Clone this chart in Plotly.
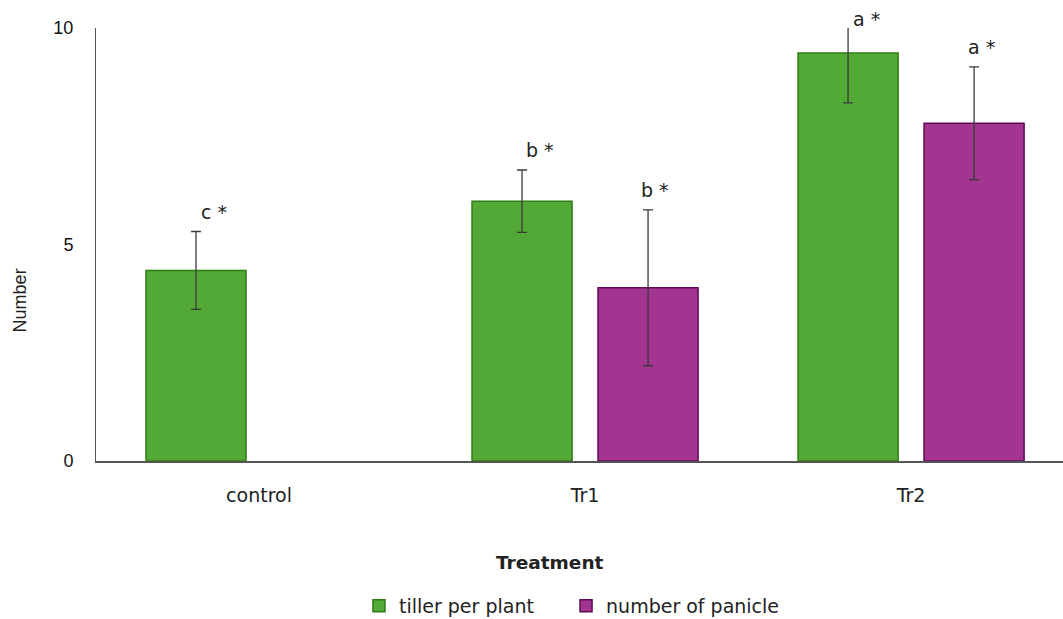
import plotly.graph_objects as go

categories = ["control", "Tr1", "Tr2"]
tiller = [4.4, 6.0, 9.42]
tiller_err = [0.9, 0.72, 1.15]
panicle = [None, 4.0, 7.8]
panicle_err = [None, 1.8, 1.3]
tiller_labels = ["c *", "b *", "a *"]
panicle_labels = [None, "b *", "a *"]

YMAX = 10
TXT = "DejaVu Sans, Noto Sans, sans-serif"
fig = go.Figure()
fig.add_trace(go.Bar(
    x=categories, y=tiller, name="tiller per plant", legend="legend",
    marker=dict(color="#53a935", line=dict(color="#2e7d12", width=1.5)),
    error_y=dict(type="data", array=tiller_err, visible=True, color="#3a3a3a", thickness=1.3, width=5),
))
fig.add_trace(go.Bar(
    x=categories, y=panicle, name="number of panicle", legend="legend2",
    marker=dict(color="#a3348f", line=dict(color="#5e0a57", width=1.5)),
    error_y=dict(type="data", array=panicle_err, visible=True, color="#3a3a3a", thickness=1.3, width=5),
))

annotations = []
for series, errs, labels, shift in [(tiller, tiller_err, tiller_labels, -45), (panicle, panicle_err, panicle_labels, 70)]:
    for c, v, e, lab in zip(categories, series, errs, labels):
        if v is None or lab is None:
            continue
        top = min(v + e, YMAX)
        annotations.append(dict(
            x=c, y=top, xref="x", yref="y", text=lab, showarrow=False,
            xshift=shift, yshift=20 if v + e < YMAX else 9, yanchor="middle",
            font=dict(family=TXT, size=19, color="#222"),
        ))

annotations.append(dict(
    x=0.47, y=-0.2355, xref="paper", yref="paper", text="<b>Treatment</b>", showarrow=False,
    xanchor="center", yanchor="middle",
    font=dict(family=TXT, size=18.5, color="#222"),
))
annotations.append(dict(
    x=-0.079, y=0.37, xref="paper", yref="paper", text="Number", showarrow=False,
    textangle=-90, xanchor="center", yanchor="middle",
    font=dict(family="Liberation Sans, Arial, sans-serif", size=18, color="#222"),
))

legend_common = dict(orientation="h", y=0.021, xref="container", yref="container",
                     xanchor="left", yanchor="middle",
                     font=dict(family=TXT, size=19, color="#222"), itemwidth=30)

fig.update_layout(
    width=1063, height=619,
    margin=dict(l=96, r=0, t=28, b=158, autoexpand=False),
    paper_bgcolor="white", plot_bgcolor="white",
    barmode="group", bargap=0.227, bargroupgap=0.206,
    showlegend=True,
    legend=dict(x=0.3377, **legend_common),
    legend2=dict(x=0.5325, **legend_common),
    annotations=annotations,
    xaxis=dict(type="category", categoryorder="array", categoryarray=categories,
               range=[-0.5, 2.466], showline=True, linecolor="#555", linewidth=1.5,
               showgrid=False, ticks="outside", ticklen=0, ticklabelstandoff=16,
               tickfont=dict(family=TXT, size=19, color="#222"),
               fixedrange=True),
    yaxis=dict(range=[0, YMAX], tickvals=[0, 5, 10], showline=True, linecolor="#555",
               linewidth=1, showgrid=False, zeroline=False, ticks="outside", ticklen=0,
               ticklabelstandoff=18,
               tickfont=dict(family="Liberation Sans, Arial, sans-serif", size=18, color="#111")),
)

fig.write_html("out.html", config={"displayModeBar": False},
               post_script="document.body.style.margin='0';document.body.style.overflow='hidden';")
